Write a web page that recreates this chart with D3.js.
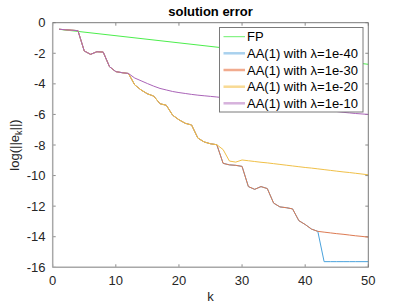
<!DOCTYPE html>
<html><head><meta charset="utf-8">
<script src="https://cdn.jsdelivr.net/npm/d3@7"></script>
<style>
html,body{margin:0;padding:0;background:#fff;}
svg{display:block;font-family:"Liberation Sans",Arial,Helvetica,sans-serif;}
</style></head>
<body><svg id="c" width="407" height="305"></svg>
<script>
// ---- data ----
const xTicks = [0, 10, 20, 30, 40, 50];
const yTicks = [0, -2, -4, -6, -8, -10, -12, -14, -16];
const seriesNames = ["FP", "AA(1) with \u03bb=1e-40", "AA(1) with \u03bb=1e-30", "AA(1) with \u03bb=1e-20", "AA(1) with \u03bb=1e-10"];

const fpK = [1, 50];
const fpVals = [-0.43, -2.72];

const kIdx = [1,2,3,4,5,6,7,8,9,10,11,12,13,14,15,16,17,18,19,20,21,22,23,24,25,26,27,28,29,30,31,32,33,34,35,36,37,38,39,40,41,42,43,44,45,46,47,48,49,50];

const aa40 = [-0.43,-0.46,-0.49,-0.52,-1.85,-2.07,-1.9,-1.92,-2.88,-3.2,-3.27,-3.32,
  -4.07,-4.4,-4.65,-4.8,-5.3,-5.4,-6.05,-6.35,-6.58,-6.69,-7.55,-7.8,-7.92,-7.98,
  -9.2,-9.3,-9.33,-9.4,-10.72,-10.9,-10.72,-10.85,-11.8,-12.05,-12.1,-12.18,-12.95,-13.2,-13.5,-13.65,
  -15.63,-15.63,-15.63,-15.63,-15.63,-15.63,-15.63,-15.63];

const aa30 = [-0.43,-0.46,-0.49,-0.52,-1.85,-2.07,-1.9,-1.92,-2.88,-3.2,-3.27,-3.32,
  -4.07,-4.4,-4.65,-4.8,-5.3,-5.4,-6.05,-6.35,-6.58,-6.69,-7.55,-7.8,-7.92,-7.98,
  -9.2,-9.3,-9.33,-9.4,-10.72,-10.9,-10.72,-10.85,-11.8,-12.05,-12.1,-12.18,-12.95,-13.2,-13.5,-13.65,
  -13.7,-13.75,-13.8,-13.84,-13.89,-13.94,-13.98,-14.03];

const aa20 = [-0.43,-0.46,-0.49,-0.52,-1.85,-2.07,-1.9,-1.92,-2.88,-3.2,-3.27,-3.32,
  -4.07,-4.4,-4.65,-4.8,-5.3,-5.4,-6.05,-6.35,-6.58,-6.69,-7.55,-7.8,-7.92,-7.98,
  -8.3,-9.05,-9.12,-8.98,-9.03,-9.08,-9.13,-9.17,-9.22,-9.27,-9.32,-9.37,-9.42,-9.47,-9.51,-9.56,
  -9.61,-9.66,-9.71,-9.76,-9.8,-9.85,-9.9,-9.95];

const aa10 = [-0.43,-0.46,-0.49,-0.52,-1.85,-2.07,-1.9,-1.92,-2.88,-3.2,-3.27,-3.32,
  -3.62,-3.8,-3.98,-4.15,-4.3,-4.4,-4.5,-4.57,-4.63,-4.69,-4.74,-4.78,-4.82,-4.86,
  -4.91,-4.96,-5.01,-5.06,-5.11,-5.16,-5.21,-5.26,-5.31,-5.36,-5.41,-5.46,-5.51,-5.56,-5.61,-5.66,
  -5.71,-5.76,-5.81,-5.86,-5.9,-5.94,-5.97,-6.0];

const lineColors = ["#4cee4c", "#4aa2dc", "#dd7a52", "#f0c048", "#aa64b8"];
const legendColors = ["#6cf06c", "#a9d1ee", "#f1ab8e", "#f8da94", "#d6b2dc"];

// ---- layout ----
const L = 52.7, R = 368.3, T = 22.7, B = 267.3;
const svg = d3.select("#c");
const x = d3.scaleLinear().domain([0, 50]).range([L, R]);
const y = d3.scaleLinear().domain([-16, 0]).range([B, T]);

const axisColor = "#8c8c8c";

// ticks
const tickLen = 3;
const g = svg.append("g");
xTicks.forEach(t => {
  g.append("line").attr("x1", x(t)).attr("x2", x(t)).attr("y1", B).attr("y2", B - tickLen).attr("stroke", axisColor).attr("stroke-width", 1);
  g.append("line").attr("x1", x(t)).attr("x2", x(t)).attr("y1", T).attr("y2", T + tickLen).attr("stroke", axisColor).attr("stroke-width", 1);
  g.append("text").attr("x", x(t)).attr("y", 285).attr("text-anchor", "middle").attr("font-size", 13).attr("fill", "#262626").text(t);
});
yTicks.forEach(t => {
  g.append("line").attr("x1", L).attr("x2", L + tickLen).attr("y1", y(t)).attr("y2", y(t)).attr("stroke", axisColor).attr("stroke-width", 1);
  g.append("line").attr("x1", R).attr("x2", R - tickLen).attr("y1", y(t)).attr("y2", y(t)).attr("stroke", axisColor).attr("stroke-width", 1);
  g.append("text").attr("x", 45.5).attr("y", y(t) + 4.6).attr("text-anchor", "end").attr("font-size", 13).attr("fill", "#262626").text(t);
});

// series lines
const line = d3.line().x(d => x(d[0])).y(d => y(d[1]));
const zip = (ks, vs) => ks.map((k, i) => [k, vs[i]]);
const seriesData = [zip(fpK, fpVals), zip(kIdx, aa40), zip(kIdx, aa30), zip(kIdx, aa20), zip(kIdx, aa10)];
seriesData.forEach((d, i) => {
  svg.append("path").datum(d).attr("d", line).attr("fill", "none")
    .attr("stroke", lineColors[i]).attr("stroke-width", 1).attr("stroke-linejoin", "round");
});

// box
svg.append("line").attr("x1", L).attr("x2", L).attr("y1", T).attr("y2", B).attr("stroke", "#a8a8a8").attr("stroke-width", 1.5);
svg.append("line").attr("x1", L).attr("x2", R).attr("y1", B).attr("y2", B).attr("stroke", "#a8a8a8").attr("stroke-width", 1.5);
svg.append("line").attr("x1", L).attr("x2", R).attr("y1", T).attr("y2", T).attr("stroke", "#7a7a7a").attr("stroke-width", 1);
svg.append("line").attr("x1", R).attr("x2", R).attr("y1", T).attr("y2", B).attr("stroke", "#7a7a7a").attr("stroke-width", 1);

// legend
const lg = svg.append("g");
const lgX = 219.5, lgY = 27.5, lgW = 143.5, lgH = 84.5;
lg.append("rect").attr("x", lgX).attr("y", lgY).attr("width", lgW).attr("height", lgH)
  .attr("fill", "#fff").attr("stroke", "#7a7a7a").attr("stroke-width", 1);
const rowY = [36.7, 53.3, 70.0, 86.7, 103.3];
seriesNames.forEach((name, i) => {
  lg.append("line").attr("x1", 223.5).attr("x2", 245).attr("y1", rowY[i]).attr("y2", rowY[i])
    .attr("stroke", legendColors[i]).attr("stroke-width", i === 0 ? 1 : 2.5);
  lg.append("text").attr("x", 247).attr("y", rowY[i] + 4.7).attr("font-size", 13).attr("fill", "#000").text(name);
});

// title and labels
svg.append("text").attr("x", (L + R) / 2).attr("y", 16).attr("text-anchor", "middle")
  .attr("font-size", 13).attr("font-weight", "bold").attr("fill", "#000").text("solution error");
svg.append("text").attr("x", (L + R) / 2).attr("y", 301).attr("text-anchor", "middle")
  .attr("font-size", 13).attr("fill", "#262626").text("k");
const yl = svg.append("text").attr("transform", "translate(19,145) rotate(-90)")
  .attr("text-anchor", "middle").attr("font-size", 13).attr("fill", "#262626");
yl.append("tspan").text("log(||e");
yl.append("tspan").attr("font-size", 9).attr("dy", 3).text("k");
yl.append("tspan").attr("dy", -3).text("||)");
</script>
</body></html>
